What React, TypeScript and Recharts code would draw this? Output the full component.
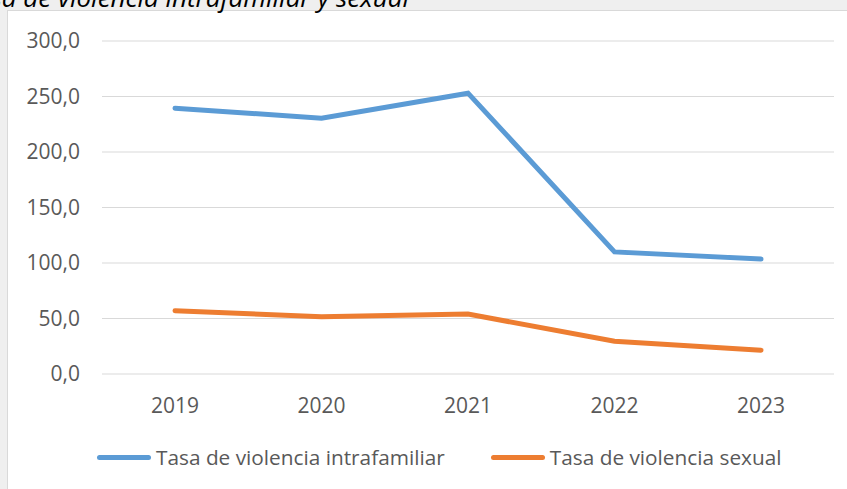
import { CartesianGrid, Legend, Line, LineChart, XAxis, YAxis } from "recharts";

const years = ["2019", "2020", "2021", "2022", "2023"];
const intrafamiliar = [239.5, 230.5, 253.0, 110.0, 103.5];
const sexual = [57.0, 51.5, 54.0, 29.5, 21.5];
const yTicks = [0, 50, 100, 150, 200, 250, 300];

const BLUE = "#5b9bd5";
const ORANGE = "#ed7d31";
const FONT = "'Open Sans', sans-serif";

const data = years.map((year, i) => ({
  year,
  intrafamiliar: intrafamiliar[i],
  sexual: sexual[i]
}));

const fmt = (v: number) => v.toFixed(1).replace(".", ",");

function LegendContent() {
  const items = [
    { label: "Tasa de violencia intrafamiliar", color: BLUE },
    { label: "Tasa de violencia sexual", color: ORANGE }
  ];
  return (
    <div style={{ display: "flex", alignItems: "center", paddingLeft: 89, height: 40 }}>
      {items.map((item, i) => (
        <div key={item.label} style={{ display: "flex", alignItems: "center", marginRight: i === 0 ? 46 : 0 }}>
          <div style={{ width: 54, height: 5, borderRadius: 3, background: item.color, marginRight: 5 }} />
          <span style={{ fontFamily: FONT, fontSize: 20.8, color: "#595959" }}>{item.label}</span>
        </div>
      ))}
    </div>
  );
}

export default function App() {
  return (
    <div
      style={{
        position: "fixed",
        top: 0,
        left: 0,
        width: 847,
        height: 489,
        overflow: "hidden",
        background: "#efefef"
      }}
    >
      <div
        style={{
          position: "absolute",
          right: 438,
          top: -21,
          fontFamily: FONT,
          fontStyle: "italic",
          fontSize: 26,
          color: "#000",
          whiteSpace: "nowrap",
          zIndex: 2
        }}
      >
        Tasa de violencia intrafamiliar y sexual
      </div>
      <div
        style={{
          position: "absolute",
          left: 7,
          top: 10,
          width: 845,
          height: 485,
          background: "#fff",
          border: "1px solid #d9d9d9",
          boxSizing: "border-box"
        }}
      >
        <LineChart
          width={840}
          height={479}
          data={data}
          margin={{ top: 30, right: 14, left: 0, bottom: 13 }}
        >
          <CartesianGrid vertical={false} stroke="#d9d9d9" strokeWidth={1} />
          <XAxis
            dataKey="year"
            axisLine={false}
            tickLine={false}
            tickSize={0}
            tickMargin={24}
            height={63}
            padding={{ left: 73, right: 73 }}
            tick={{ fontFamily: FONT, fontSize: 21, fill: "#595959" }}
          />
          <YAxis
            domain={[0, 300]}
            ticks={yTicks}
            tickFormatter={fmt}
            axisLine={false}
            tickLine={false}
            tickSize={0}
            tickMargin={22}
            width={94}
            tick={{ fontFamily: FONT, fontSize: 21, fill: "#595959" }}
          />
          <Legend verticalAlign="bottom" height={40} content={() => <LegendContent />} />
          <Line
            type="linear"
            dataKey="intrafamiliar"
            name="Tasa de violencia intrafamiliar"
            stroke={BLUE}
            strokeWidth={5}
            strokeLinecap="round"
            dot={false}
            isAnimationActive={false}
          />
          <Line
            type="linear"
            dataKey="sexual"
            name="Tasa de violencia sexual"
            stroke={ORANGE}
            strokeWidth={5}
            strokeLinecap="round"
            dot={false}
            isAnimationActive={false}
          />
        </LineChart>
      </div>
    </div>
  );
}
